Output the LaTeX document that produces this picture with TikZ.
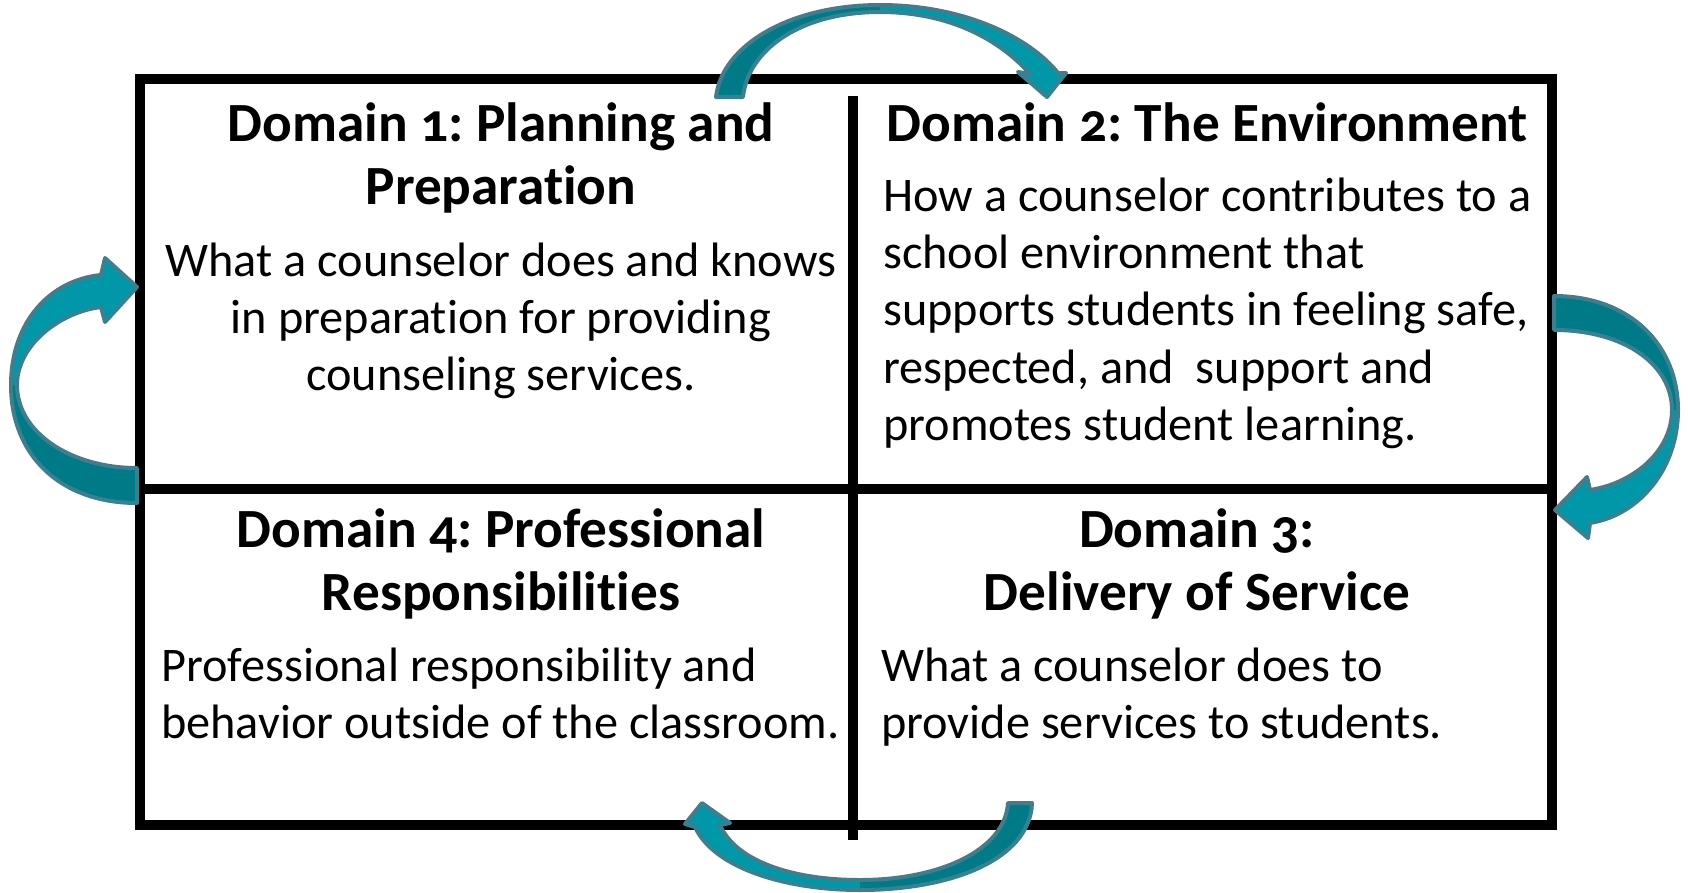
\documentclass[tikz,border=0pt]{standalone}
\usepackage{fontspec}
\setmainfont{Carlito}[Numbers=OldStyle, Ligatures=NoCommon]
\definecolor{tealdark}{HTML}{007A86}
\definecolor{teallight}{HTML}{0098A8}
\definecolor{tealline}{HTML}{3D7F8E}
\frenchspacing
\begin{document}
\begin{tikzpicture}[x=1pt,y=-1pt,
  frame/.style={line width=10pt, black},
  ttl/.style={font=\fontsize{55.3}{66}\selectfont\bfseries, inner sep=0pt, anchor=base},
  bodyc/.style={font=\fontsize{48.3}{58}\selectfont, inner sep=0pt, anchor=base},
  bodyl/.style={font=\fontsize{48.3}{58}\selectfont, inner sep=0pt, anchor=base west},
  adark/.style={fill=tealdark, draw=none},
  alight/.style={fill=teallight, draw=none},
  aline/.style={draw=tealline, line width=4pt, line join=round}]
\useasboundingbox (0,0) rectangle (1688,892);

% frame
\draw[frame] (140,79) rectangle (1552,825);
\draw[frame] (140,489) -- (1552,489);
\draw[frame] (853,96) -- (853,840);

% top arrow
\path[adark] (716,97) .. controls (722,45) and (790,5) .. (880,5) -- (880,12) .. controls (800,12) and (748,50) .. (743,97) -- cycle;
\path[alight] (880,5) .. controls (965,5) and (1030,38) .. (1058,73) -- (1066,73) -- (1047,97) -- (1018,72) -- (1030,74) .. controls (1000,40) and (950,12) .. (880,12) -- cycle;
\draw[aline] (716,97) .. controls (722,45) and (790,5) .. (880,5) .. controls (965,5) and (1030,38) .. (1058,73) -- (1066,73) -- (1047,97) -- (1018,72) -- (1030,74) .. controls (1000,40) and (950,12) .. (880,12) .. controls (800,12) and (748,50) .. (743,97) -- cycle;

% left arrow
\path[adark] (137,503) .. controls (60,503) and (11,455) .. (11,385) -- (17,385) .. controls (17,432) and (70,468) .. (137,468) -- cycle;
\path[alight] (11,385) .. controls (11,322) and (50,280) .. (101,275) -- (105,258) -- (137,287) -- (105,322) -- (101,307) .. controls (60,312) and (17,345) .. (17,385) -- cycle;
\draw[aline] (137,503) .. controls (60,503) and (11,455) .. (11,385) .. controls (11,322) and (50,280) .. (101,275) -- (105,258) -- (137,287) -- (105,322) -- (101,307) .. controls (60,312) and (17,345) .. (17,385) .. controls (17,432) and (70,468) .. (137,468) -- cycle;

% right arrow
\path[adark] (1554,296) .. controls (1630,296) and (1678,345) .. (1678,410) -- (1672,410) .. controls (1672,365) and (1625,330) .. (1554,330) -- cycle;
\path[alight] (1678,410) .. controls (1678,468) and (1640,515) .. (1590,523) -- (1588,538) -- (1555,510) -- (1587,477) -- (1590,490) .. controls (1635,483) and (1672,450) .. (1672,410) -- cycle;
\draw[aline] (1554,296) .. controls (1630,296) and (1678,345) .. (1678,410) .. controls (1678,468) and (1640,515) .. (1590,523) -- (1588,538) -- (1555,510) -- (1587,477) -- (1590,490) .. controls (1635,483) and (1672,450) .. (1672,410) .. controls (1672,365) and (1625,330) .. (1554,330) -- cycle;

% bottom arrow
\path[adark] (1032,803) .. controls (1030,860) and (950,890) .. (860,890) -- (860,880) .. controls (940,880) and (1005,850) .. (1008,803) -- cycle;
\path[alight] (860,890) .. controls (790,890) and (715,870) .. (695,827) -- (685,824) -- (702,803) -- (730,823) -- (720,825) .. controls (735,860) and (790,880) .. (860,880) -- cycle;
\draw[aline] (1032,803) .. controls (1030,860) and (950,890) .. (860,890) .. controls (790,890) and (715,870) .. (695,827) -- (685,824) -- (702,803) -- (730,823) -- (720,825) .. controls (735,860) and (790,880) .. (860,880) .. controls (940,880) and (1005,850) .. (1008,803) -- cycle;

% cell 1
\node[ttl] (t1a) at (501,141) {Domain 1: Planning and};
\node[ttl] (t1b) at (501,204) {Preparation};
\node[bodyc] (b1a) at (501,276) {What a counselor does and knows};
\node[bodyc] (b1b) at (501,333) {in preparation for providing};
\node[bodyc] (b1c) at (501,390) {counseling services.};

% cell 2
\node[ttl] (t2) at (1207,141) {Domain 2: The Environment};
\node[bodyl] (b2a) at (883,211) {How a counselor contributes to a};
\node[bodyl] (b2b) at (883,268) {school environment that};
\node[bodyl] (b2c) at (883,325) {supports students in feeling safe,};
\node[bodyl] (b2d) at (883,383) {respected, and\ \ support and};
\node[bodyl] (b2e) at (883,440) {promotes student learning.};

% cell 4
\node[ttl] (t4a) at (501,547) {Domain 4: Professional};
\node[ttl] (t4b) at (501,610) {Responsibilities};
\node[bodyl] (b4a) at (161,681) {Professional responsibility and};
\node[bodyl] (b4b) at (161,738) {behavior outside of the classroom.};

% cell 3
\node[ttl] (t3a) at (1197,547) {Domain 3:};
\node[ttl] (t3b) at (1197,610) {Delivery of Service};
\node[bodyl] (b3a) at (881,681) {What a counselor does to};
\node[bodyl] (b3b) at (881,738) {provide services to students.};
\end{tikzpicture}
\end{document}
